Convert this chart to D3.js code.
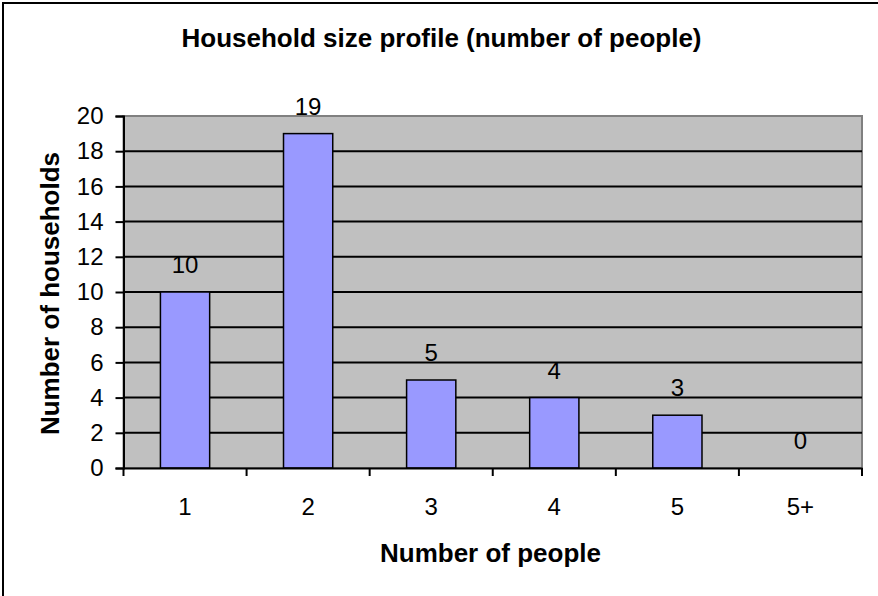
<!DOCTYPE html>
<html>
<head>
<meta charset="utf-8">
<script src="https://cdn.jsdelivr.net/npm/d3@7"></script>
<style>
  body { margin: 0; background: #fff; }
  text { font-family: "Liberation Sans", Arial, sans-serif; fill: #000; }
</style>
</head>
<body>
<div id="chart"></div>
<script>
// data
const categories = ["1", "2", "3", "4", "5", "5+"];
const households = [10, 19, 5, 4, 3, 0];
const yTicks = [0, 2, 4, 6, 8, 10, 12, 14, 16, 18, 20];

const W = 878, H = 596;
const plot = {left: 123.5, top: 116, right: 862, bottom: 468};

const svg = d3.select("#chart")
  .append("svg")
    .attr("width", W)
    .attr("height", H);

// outer chart border (runs off the right/bottom edge)
svg.append("rect")
  .attr("x", 3).attr("y", 3)
  .attr("width", 920).attr("height", 640)
  .attr("fill", "#fff")
  .attr("stroke", "#000")
  .attr("stroke-width", 2);

// scales
const x = d3.scaleBand()
  .domain(categories)
  .range([plot.left, plot.right])
  .paddingInner(0.6)
  .paddingOuter(0.3);

const y = d3.scaleLinear()
  .domain([0, 20])
  .range([plot.bottom, plot.top]);

// plot background
svg.append("rect")
  .attr("x", plot.left).attr("y", plot.top)
  .attr("width", plot.right - plot.left)
  .attr("height", plot.bottom - plot.top)
  .attr("fill", "#c0c0c0")
  .attr("stroke", "#808080")
  .attr("stroke-width", 2);

// gridlines
svg.append("g")
  .selectAll("line")
  .data(yTicks.filter(d => d > 0 && d < 20))
  .join("line")
    .attr("x1", plot.left).attr("x2", plot.right)
    .attr("y1", d => y(d)).attr("y2", d => y(d))
    .attr("stroke", "#000")
    .attr("stroke-width", 2);

// bars
svg.append("g")
  .selectAll("rect")
  .data(households)
  .join("rect")
    .attr("x", (d, i) => x(categories[i]))
    .attr("y", d => y(d))
    .attr("width", x.bandwidth())
    .attr("height", d => y(0) - y(d))
    .attr("fill", "#9999ff")
    .attr("stroke", "#000")
    .attr("stroke-width", 1.5)
    .style("display", d => d > 0 ? null : "none");

// value labels
svg.append("g")
  .selectAll("text")
  .data(households)
  .join("text")
    .attr("x", (d, i) => x(categories[i]) + x.bandwidth() / 2)
    .attr("y", d => y(d) - 19)
    .attr("text-anchor", "middle")
    .style("font-size", "24px")
    .text(d => d);

// y axis
const yAxis = d3.axisLeft(y).tickValues(yTicks).tickSize(8).tickPadding(12);
const gy = svg.append("g")
  .attr("transform", `translate(${plot.left},0)`)
  .call(yAxis);
gy.select(".domain").attr("stroke", "#000").attr("stroke-width", 2);
gy.selectAll(".tick line").attr("stroke", "#000").attr("stroke-width", 2);
gy.selectAll(".tick text").style("font-size", "24px").attr("fill", "#000");

// x axis, ticks sit between the categories
const xAxis = d3.axisBottom(x).tickSize(0).tickPadding(30);
const gx = svg.append("g")
  .attr("transform", `translate(0,${plot.bottom})`)
  .call(xAxis);
gx.select(".domain").attr("stroke", "#000").attr("stroke-width", 2);
gx.selectAll(".tick text").style("font-size", "24px").attr("fill", "#000");

const step = x.step();
gx.append("g")
  .selectAll("line")
  .data(d3.range(categories.length + 1))
  .join("line")
    .attr("x1", i => plot.left + i * step)
    .attr("x2", i => plot.left + i * step)
    .attr("y1", 0).attr("y2", 8)
    .attr("stroke", "#000")
    .attr("stroke-width", 2);

// title
svg.append("text")
  .attr("x", 441.5)
  .attr("y", 47)
  .attr("text-anchor", "middle")
  .style("font-size", "26px")
  .style("font-weight", "bold")
  .text("Household size profile (number of people)");

// axis titles
svg.append("text")
  .attr("x", 490.5)
  .attr("y", 562)
  .attr("text-anchor", "middle")
  .style("font-size", "26px")
  .style("font-weight", "bold")
  .text("Number of people");

svg.append("text")
  .attr("transform", "translate(59,293.5) rotate(-90)")
  .attr("text-anchor", "middle")
  .style("font-size", "26px")
  .style("font-weight", "bold")
  .text("Number of households");
</script>
</body>
</html>
